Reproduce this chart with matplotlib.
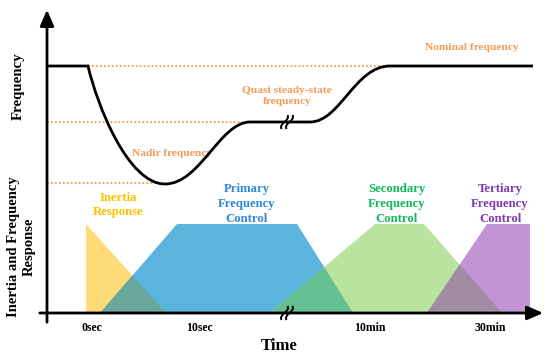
import matplotlib
matplotlib.use("Agg")
import matplotlib.pyplot as plt
from matplotlib.path import Path
from matplotlib.patches import PathPatch, Polygon, FancyArrowPatch

plt.rcParams['font.family'] = ['Liberation Serif', 'DejaVu Serif']
plt.rcParams['font.weight'] = 'bold'

# ---------------- data (schematic units = image pixels) ----------------
# frequency trajectory: vertices and Bezier control points
freq_x = [47, 88, 97, 128, 165, 200, 220, 250, 310, 340, 355, 390, 533]
freq_y = [66, 66, 105, 184, 184, 184, 122, 122, 122, 122, 66, 66, 66]
freq_codes = ['M', 'L', 'C', 'C', 'C', 'C', 'C', 'C', 'L', 'C', 'C', 'C', 'L']

# reference frequency levels (nominal, quasi steady-state, nadir) and dotted extents
ref_levels = [66, 122, 183]
ref_start = [88, 47, 47]
ref_end = [390, 258, 160]

# response profiles (time, level)
base_level = 313
top_level = 224
inertia_t = [86, 86, 166]
inertia_lv = [base_level, top_level, base_level]
primary_t = [100, 177, 297, 353]
primary_lv = [base_level, top_level, top_level, base_level]
secondary_t = [270, 375, 424, 502]
secondary_lv = [base_level, top_level, top_level, base_level]
tertiary_t = [427, 487, 530, 530]
tertiary_lv = [base_level, top_level, top_level, base_level]

tick_pos = [92, 199, 370, 490]
tick_labels = ["0sec", "10sec", "10min", "30min"]

# colours
c_yellow = '#FFDA78'
c_blue = '#5AB4DE'
c_green = '#B8E4A0'
c_purple = '#C194D6'
c_yb = '#6AA79C'
c_bg = '#64C090'
c_gp = '#A28CA4'
c_orange = '#F39A55'

# ---------------- figure ----------------
fig = plt.figure(figsize=(5.5, 3.57), dpi=100)
ax = fig.add_axes([0, 0, 1, 1])
ax.set_xlim(0, 550)
ax.set_ylim(357, 0)
ax.axis('off')

def poly(t, lv, color, z):
    p = Polygon(list(zip(t, lv)), closed=True, facecolor=color, edgecolor='none', zorder=z)
    ax.add_patch(p)
    return p

p_in = poly(inertia_t, inertia_lv, c_yellow, 1)
p_pr = poly(primary_t, primary_lv, c_blue, 2)
ov1 = poly(primary_t, primary_lv, c_yb, 3)
ov1.set_clip_path(p_in)
p_se = poly(secondary_t, secondary_lv, c_green, 4)
ov2 = poly(secondary_t, secondary_lv, c_bg, 5)
ov2.set_clip_path(p_pr)
p_te = poly(tertiary_t, tertiary_lv, c_purple, 6)
ov3 = poly(tertiary_t, tertiary_lv, c_gp, 7)
ov3.set_clip_path(p_se)

# dotted reference lines
for lv, s, e in zip(ref_levels, ref_start, ref_end):
    ax.plot([s, e], [lv, lv], color=c_orange, lw=1.3, linestyle=(0, (1, 1.2)), zorder=8)

# frequency curve
code_map = {'M': Path.MOVETO, 'L': Path.LINETO, 'C': Path.CURVE4}
path = Path(list(zip(freq_x, freq_y)), [code_map[c] for c in freq_codes])
ax.add_patch(PathPatch(path, facecolor='none', edgecolor='black', lw=2.0,
                       capstyle='butt', zorder=9))

# axes arrows
ax.add_patch(FancyArrowPatch((47, 325), (47, 7), arrowstyle='-|>,head_length=6,head_width=2.6',
                             mutation_scale=1.6, lw=2.0, color='black', zorder=10))
ax.add_patch(FancyArrowPatch((37, 313), (546, 313), arrowstyle='-|>,head_length=6,head_width=2.6',
                             mutation_scale=1.6, lw=2.0, color='black', zorder=10))

# break marks
def brk(x, y):
    for dx in (-2.5, 2.5):
        verts = [(x + dx - 3, y + 7), (x + dx - 6, y + 1), (x + dx + 6, y - 1), (x + dx + 3, y - 7)]
        ax.add_patch(PathPatch(Path(verts, [Path.MOVETO, Path.CURVE4, Path.CURVE4, Path.CURVE4]),
                               facecolor='none', edgecolor='black', lw=1.4, zorder=11))
brk(287, 122)
brk(287, 313)

# labels
ax.text(472, 48, "Nominal frequency", color=c_orange, fontsize=8.2, ha='center', va='center')
ax.text(287, 96, "Quasi steady-state\nfrequency", color=c_orange, fontsize=8.2,
        ha='center', va='center', linespacing=1.15)
ax.text(172, 154, "Nadir frequency", color=c_orange, fontsize=8.2, ha='center', va='center')

ax.text(118, 205, "Inertia\nResponse", color='#FFC000', fontsize=9.2, ha='center', va='center',
        linespacing=1.3)
ax.text(247, 204, "Primary\nFrequency\nControl", color='#2F87D8', fontsize=9.2, ha='center',
        va='center', linespacing=1.3)
ax.text(397, 204, "Secondary\nFrequency\nControl", color='#12B85C', fontsize=9.2, ha='center',
        va='center', linespacing=1.3)
ax.text(500, 204, "Tertiary\nFrequency\nControl", color='#7E3BB0', fontsize=9.2, ha='center',
        va='center', linespacing=1.3)

for tp, tl in zip(tick_pos, tick_labels):
    ax.text(tp, 328, tl, fontsize=8.5, ha='center', va='center')

ax.text(279, 346, "Time", fontsize=12, ha='center', va='center')
ax.text(18, 86, "Frequency", fontsize=10.7, ha='center', va='center', rotation=90)
ax.text(21, 247, "Inertia and Frequency\nResponse", fontsize=10.5, ha='center', va='center',
        rotation=90, linespacing=1.25)

fig.savefig("out.png", dpi=100)
